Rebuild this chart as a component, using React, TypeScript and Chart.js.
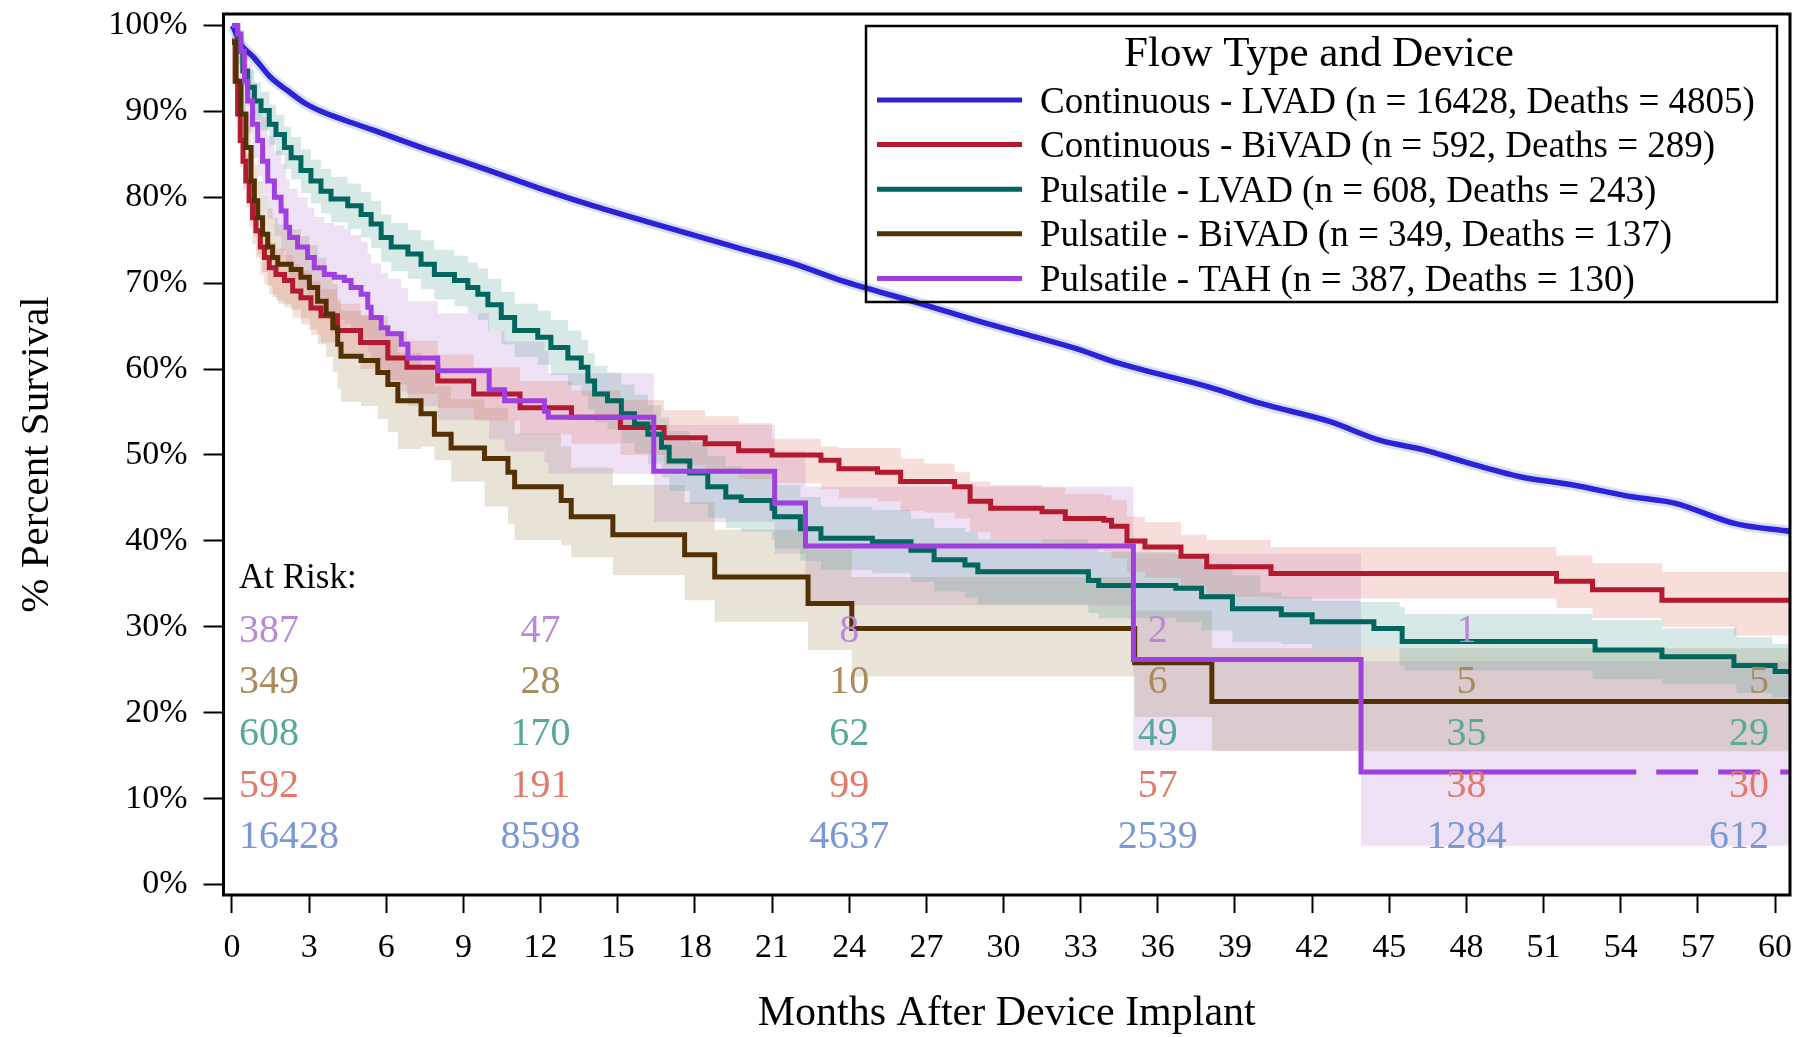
import React, { useEffect, useRef } from 'react';
import { Chart, registerables } from 'chart.js';

Chart.register(...registerables);

const SERIF = '"Liberation Serif", "Times New Roman", Times, serif';

// ---------- axis ticks ----------
const xTickValues = [0, 3, 6, 9, 12, 15, 18, 21, 24, 27, 30, 33, 36, 39, 42, 45, 48, 51, 54, 57, 60];
const xTickLabels = ['0', '3', '6', '9', '12', '15', '18', '21', '24', '27', '30', '33', '36', '39', '42', '45', '48', '51', '54', '57', '60'];
const yTickValues = [0, 10, 20, 30, 40, 50, 60, 70, 80, 90, 100];
const yTickLabels = ['0%', '10%', '20%', '30%', '40%', '50%', '60%', '70%', '80%', '90%', '100%'];

// ---------- legend ----------
const legendTitle = 'Flow Type and Device';
const legendLabels = [
  'Continuous - LVAD (n = 16428, Deaths = 4805)',
  'Continuous - BiVAD (n = 592, Deaths = 289)',
  'Pulsatile - LVAD (n = 608, Deaths = 243)',
  'Pulsatile - BiVAD (n = 349, Deaths = 137)',
  'Pulsatile - TAH (n = 387, Deaths = 130)',
];
const lineColors = ['#2b22da', '#b3192f', '#01665e', '#543005', '#a03fe0'];
const lightColors = ['#7b97d4', '#e27a6a', '#5aa89a', '#a98a5c', '#bb88d8'];

// ---------- survival curves: [month, % survival] ----------
const cLvad: number[][] = [
  [0, 100], [0.03, 99.9], [0.35, 97.8], [0.87, 96.2], [1.52, 93.9], [2.17, 92.4], [2.81, 91.0],
  [3.46, 90.0], [4.44, 88.9], [5.41, 87.9], [7.35, 85.8], [9.43, 83.7], [11.9, 81.1], [13.84, 79.2],
  [16.43, 76.9], [19.8, 74.0], [21.8, 72.3], [23.7, 70.3], [26.8, 67.6], [28.9, 65.7], [30.8, 64.1],
  [32.8, 62.4], [34.5, 60.65], [38.0, 57.9], [40.0, 56.0], [42.67, 53.9], [44.64, 51.7], [46.35, 50.6],
  [47.93, 49.2], [50.04, 47.5], [52.14, 46.5], [54.5, 45.1], [56.09, 44.4], [58.46, 42.0], [60.6, 41.1],
];

const cBivad: number[][] = [
  [0, 98.2], [0.12, 93.5], [0.22, 89.7], [0.32, 86.6], [0.43, 84.2], [0.54, 81.9], [0.67, 79.6],
  [0.8, 77.6], [0.93, 76.1], [1.1, 74.2], [1.26, 73.0], [1.45, 71.8], [1.71, 71.0], [2.04, 70.3],
  [2.36, 69.1], [2.68, 68.3], [3.07, 67.1], [3.46, 66.2], [4.1, 64.5], [5.0, 63.1], [6.06, 61.3],
  [6.8, 60.2], [8.0, 58.6], [9.4, 57.1], [11.2, 55.5], [13.2, 54.4], [15.1, 53.2], [16.8, 52.0],
  [18.4, 51.3], [19.7, 50.5], [21.0, 50.0], [22.9, 49.4], [23.6, 48.4], [25.1, 48.0], [26.0, 46.9],
  [28.1, 46.3], [28.7, 44.6], [29.5, 43.8], [31.5, 43.4], [32.4, 42.6], [33.9, 42.4], [34.2, 41.7],
  [34.8, 40.0], [35.5, 39.3], [36.9, 38.2], [37.9, 37.0], [40.4, 36.2], [51.5, 35.3], [52.9, 34.3],
  [55.6, 33.1], [60.6, 33.1],
];

const pLvad: number[][] = [
  [0, 100], [0.22, 97.0], [0.42, 94.7], [0.61, 92.8], [0.87, 91.2], [1.13, 90.1], [1.45, 88.5],
  [1.71, 87.3], [2.04, 85.8], [2.3, 84.6], [2.68, 83.1], [3.07, 81.9], [3.46, 80.7], [3.85, 79.8],
  [4.5, 79.0], [5.02, 78.0], [5.41, 76.9], [5.8, 75.3], [6.19, 74.2], [6.84, 73.4], [7.35, 72.2],
  [7.87, 71.0], [8.65, 70.3], [9.17, 69.5], [9.56, 68.7], [9.95, 67.5], [10.47, 66.0], [10.99, 64.5],
  [11.89, 63.7], [12.4, 62.5], [13.06, 61.3], [13.58, 60.2], [13.84, 58.6], [14.1, 57.1], [14.6, 56.3],
  [15.14, 54.8], [15.65, 53.6], [16.17, 52.4], [16.7, 50.9], [17.0, 49.3], [17.8, 47.9], [18.5, 46.3],
  [19.2, 45.1], [19.8, 44.7], [21.0, 43.8], [21.1, 42.8], [22.1, 41.4], [22.9, 40.3], [24.9, 39.9],
  [26.4, 38.9], [27.3, 37.8], [28.5, 37.2], [29.0, 36.4], [33.3, 35.4], [33.7, 34.8], [36.7, 34.5],
  [37.7, 33.5], [38.9, 32.1], [40.8, 31.4], [42.0, 30.6], [44.4, 29.8], [45.5, 28.3], [53.0, 27.3],
  [55.6, 26.5], [58.4, 25.5], [60.0, 24.8], [60.6, 24.8],
];

const pBivad: number[][] = [
  [0, 98.0], [0.16, 93.5], [0.35, 89.7], [0.54, 85.8], [0.74, 81.9], [0.87, 79.6], [1.0, 77.6],
  [1.19, 75.7], [1.39, 74.2], [1.58, 73.0], [1.78, 72.2], [2.3, 71.6], [2.68, 70.7], [3.01, 69.5],
  [3.33, 67.9], [3.66, 66.4], [3.92, 64.8], [4.11, 62.9], [4.24, 61.5], [5.02, 61.0], [5.67, 59.6],
  [6.06, 58.2], [6.45, 56.3], [7.35, 54.8], [7.87, 52.4], [8.52, 50.8], [9.82, 49.6], [10.73, 48.0],
  [10.99, 46.3], [12.8, 44.7], [13.19, 42.8], [14.81, 40.7], [17.6, 38.4], [18.77, 35.8], [22.4, 32.7],
  [24.1, 29.8], [35.1, 25.8], [38.1, 21.3], [60.6, 21.3],
];

const tah: number[][] = [
  [0, 100], [0.22, 99.0], [0.35, 97.0], [0.48, 93.5], [0.61, 91.2], [0.8, 88.5], [1.0, 86.6],
  [1.19, 84.2], [1.39, 81.9], [1.65, 80.0], [1.91, 78.4], [2.1, 76.5], [2.24, 75.3], [2.55, 74.2],
  [2.94, 73.0], [3.2, 71.8], [3.59, 71.0], [3.98, 70.7], [4.37, 70.3], [4.63, 69.5], [5.02, 68.7],
  [5.28, 67.2], [5.41, 66.0], [5.8, 64.8], [6.06, 64.1], [6.58, 62.9], [6.84, 61.3], [8.0, 59.8],
  [10.0, 57.6], [10.6, 56.3], [12.15, 55.1], [12.3, 54.4], [16.4, 48.1], [21.1, 44.4], [22.3, 39.4],
  [35.05, 26.2], [43.9, 13.1], [54.6, 13.1],
];
const tahTail: number[][] = [[54.6, 13.1], [60.6, 13.1]];

// ---------- confidence bands: [month, upper %, lower %] ----------
const cBivadBand: number[][] = [
  [0, 100, 100], [0.03, 99.5, 96.5], [0.12, 96, 91], [0.22, 92.5, 87], [0.32, 89.5, 83.5], [0.43, 87, 81],
  [0.54, 85, 78.8], [0.67, 82.7, 76.5], [0.8, 80.7, 74.5], [0.93, 79.2, 73], [1.1, 77.3, 71], [1.26, 76, 69.8],
  [1.45, 74.8, 68.7], [1.71, 74, 68], [2.04, 73.3, 67.2], [2.36, 72.2, 66], [2.68, 71.4, 65.2], [3.07, 70.2, 64],
  [3.46, 69.3, 63.1], [4.1, 67.6, 61.4], [5.0, 66.2, 60], [6.06, 64.4, 58.2], [6.8, 63.3, 57.1], [8.0, 61.7, 55.5],
  [9.4, 60.2, 54], [11.2, 58.6, 52.4], [13.2, 57.5, 51.3], [15.1, 56.4, 50], [16.8, 55.2, 48.8], [18.4, 54.5, 48],
  [19.7, 53.7, 47.2], [21.0, 51.9, 46.7], [22.9, 51.0, 46], [23.6, 50.8, 45], [25.1, 50.8, 44.6], [26.0, 49.6, 43.5],
  [26.9, 49.0, 43.3], [28.1, 48.0, 42.6], [28.7, 46.9, 41], [29.5, 46.5, 40.2], [31.5, 46.2, 39.8], [32.4, 45.5, 39],
  [33.9, 45.3, 38.8], [34.2, 44.8, 38], [34.8, 42.8, 36.4], [35.5, 42.2, 35.7], [36.9, 40.7, 34.7], [37.9, 40.1, 33.5],
  [40.4, 39.3, 33.3], [51.5, 38.3, 32.2], [52.9, 37.4, 31.0], [55.6, 36.4, 30.0], [58.4, 36.4, 29.0], [60.6, 36.4, 29.0],
];

const pLvadBand: number[][] = [
  [0, 100, 100], [0.22, 98.5, 95.5], [0.42, 96.5, 92.8], [0.61, 94.8, 90.8], [0.87, 93.4, 89], [1.13, 92.3, 87.8],
  [1.45, 90.8, 86.1], [1.71, 89.6, 84.9], [2.04, 88.2, 83.3], [2.3, 87, 82.1], [2.68, 85.6, 80.5], [3.07, 84.4, 79.3],
  [3.46, 83.3, 78.1], [3.85, 82.4, 77.1], [4.5, 81.6, 76.3], [5.02, 80.6, 75.3], [5.41, 79.6, 74.1], [5.8, 78, 72.5],
  [6.19, 77, 71.4], [6.84, 76.2, 70.5], [7.35, 75, 69.3], [7.87, 73.9, 68.1], [8.65, 73.2, 67.3], [9.17, 72.4, 66.5],
  [9.56, 71.7, 65.7], [9.95, 70.5, 64.4], [10.47, 69, 62.9], [10.99, 67.6, 61.4], [11.89, 66.8, 60.5], [12.4, 65.7, 59.3],
  [13.06, 64.5, 58.1], [13.58, 63.4, 56.9], [13.84, 61.9, 55.3], [14.1, 60.4, 53.8], [14.6, 59.6, 53], [15.14, 58.2, 51.4],
  [15.65, 57, 50.2], [16.17, 55.8, 49], [16.7, 54.4, 47.4], [17.0, 52.8, 45.8], [17.8, 51.5, 44.3], [18.5, 49.9, 42.7],
  [19.2, 48.7, 41.5], [19.8, 48.3, 41.1], [21.0, 47.5, 40.1], [21.1, 46.5, 39.1], [22.1, 45.1, 37.7], [22.9, 44, 36.6],
  [24.9, 43.6, 36.2], [26.4, 42.6, 35.2], [27.3, 41.5, 34.1], [28.5, 41, 33.4], [29.0, 40.2, 32.6], [33.3, 39.2, 31.6],
  [33.7, 38.7, 31], [36.7, 38.4, 30.6], [37.7, 37.4, 29.6], [38.9, 36, 28.2], [40.0, 34, 28.2], [40.8, 33.5, 28],
  [42.0, 33, 27.5], [43.85, 32.9, 27.5], [45.4, 32.3, 25.5], [45.6, 31.5, 24.9], [52.9, 30.8, 23.9], [55.6, 29.8, 23.3],
  [58.5, 28.8, 22.3], [59.9, 28, 21.8], [60.6, 28, 21.8],
];

const pBivadBand: number[][] = [
  [0, 100, 100], [0.03, 99.5, 94], [0.16, 97, 90], [0.35, 93.5, 86], [0.54, 89.8, 81.8], [0.74, 86, 77.8],
  [0.87, 83.8, 75.4], [1.0, 81.9, 73.3], [1.19, 80.1, 71.3], [1.39, 78.7, 69.7], [1.58, 77.6, 68.4], [1.78, 76.8, 67.6],
  [2.3, 76.3, 66.9], [2.68, 75.5, 65.9], [3.01, 74.4, 64.6], [3.33, 72.9, 62.9], [3.66, 71.4, 61.4], [3.92, 69.9, 59.7],
  [4.11, 68.1, 57.7], [4.24, 66.8, 56.2], [5.02, 66.3, 55.7], [5.67, 65, 54.2], [6.06, 63.7, 52.7], [6.45, 61.9, 50.7],
  [7.35, 60, 51], [7.87, 58, 49.4], [8.52, 56.5, 46.9], [9.82, 55.5, 44], [10.73, 54, 42], [10.99, 52.5, 40.1],
  [12.8, 51, 39.5], [13.19, 48.5, 38.1], [14.81, 46.5, 36], [17.6, 44.5, 33.1], [18.77, 41.3, 30.6], [22.4, 39, 27.3],
  [24.1, 35.8, 24.2], [35.1, 31.9, 19.5], [38.1, 27.5, 15.5], [60.6, 27.5, 15.5],
];

const tahBand: number[][] = [
  [0, 100, 100], [0.22, 100, 97], [0.35, 99.5, 94.5], [0.48, 97.5, 90], [0.61, 95.5, 87.5], [0.8, 93.3, 84.5],
  [1.0, 91.5, 82.5], [1.19, 89.3, 80], [1.39, 87.2, 77.5], [1.65, 85.4, 75.5], [1.91, 83.9, 73.8], [2.1, 82.1, 71.8],
  [2.24, 81, 70.6], [2.55, 80, 69.4], [2.94, 78.8, 68.1], [3.2, 77.7, 66.9], [3.59, 77, 66], [3.98, 76.7, 65.7],
  [4.37, 76.3, 65.3], [4.63, 75.6, 64.4], [5.02, 74.8, 63.6], [5.28, 73.4, 62], [5.41, 72.3, 60.7], [5.8, 71.2, 59.4],
  [6.06, 70.5, 58.7], [6.58, 69.4, 57.4], [6.84, 67.9, 55.7], [8.0, 66.5, 54.1], [10.0, 64.4, 51.8], [10.6, 63.2, 50.4],
  [12.15, 62.1, 49.1], [12.3, 59.5, 47.8], [16.4, 53.5, 42.2], [21.1, 50.5, 38.5], [22.3, 46.3, 32.5],
  [35.05, 38.5, 15.6], [43.9, 26, 4.5], [60.6, 26, 4.5],
];

// ---------- number at risk ----------
const atRiskTimes = [0, 12, 24, 36, 48, 60];
const atRiskTAH = [387, 47, 8, 2, 1, null];
const atRiskPBivad = [349, 28, 10, 6, 5, 5];
const atRiskPLvad = [608, 170, 62, 49, 35, 29];
const atRiskCBivad = [592, 191, 99, 57, 38, 30];
const atRiskCLvad = [16428, 8598, 4637, 2539, 1284, 612];

const atRiskRows = [
  { values: atRiskTAH, color: lightColors[4] },
  { values: atRiskPBivad, color: lightColors[3] },
  { values: atRiskPLvad, color: lightColors[2] },
  { values: atRiskCBivad, color: lightColors[1] },
  { values: atRiskCLvad, color: lightColors[0] },
];

function hexA(hex: string, a: number) {
  const n = parseInt(hex.slice(1), 16);
  return `rgba(${(n >> 16) & 255},${(n >> 8) & 255},${n & 255},${a})`;
}

const toPts = (arr: number[][], k = 1) => arr.map((r) => ({ x: r[0], y: r[k] }));

function buildDatasets() {
  const ds: any[] = [];
  const bands = [
    { band: cBivadBand, color: lightColors[1] },
    { band: pLvadBand, color: lightColors[2] },
    { band: pBivadBand, color: lightColors[3] },
    { band: tahBand, color: lightColors[4] },
  ];
  const W = 5;
  ds.push({ data: toPts(tah), borderColor: lineColors[4], borderWidth: W, stepped: true, pointRadius: 0, fill: false, order: 1 });
  ds.push({ data: toPts(tahTail), borderColor: lineColors[4], borderWidth: W, borderDash: [42, 20], borderDashOffset: 42, pointRadius: 0, fill: false, order: 1 });
  ds.push({ data: toPts(pBivad), borderColor: lineColors[3], borderWidth: W, stepped: true, pointRadius: 0, fill: false, order: 2 });
  ds.push({ data: toPts(pLvad), borderColor: lineColors[2], borderWidth: W, stepped: true, pointRadius: 0, fill: false, order: 3 });
  ds.push({ data: toPts(cBivad), borderColor: lineColors[1], borderWidth: W, stepped: true, pointRadius: 0, fill: false, order: 4 });
  ds.push({ data: toPts(cLvad), borderColor: lineColors[0], borderWidth: 5.5, cubicInterpolationMode: 'monotone', pointRadius: 0, fill: false, order: 5 });
  ds.push({ data: toPts(cLvad), borderColor: hexA(lightColors[0], 0.3), borderWidth: 11, cubicInterpolationMode: 'monotone', pointRadius: 0, fill: false, order: 6 });
  bands.forEach((b) => {
    const upperIdx = ds.length;
    ds.push({
      data: toPts(b.band, 1), borderWidth: 0, borderColor: 'rgba(0,0,0,0)', stepped: true, pointRadius: 0,
      fill: upperIdx + 1, backgroundColor: hexA(b.color, 0.25), order: 10,
    });
    ds.push({
      data: toPts(b.band, 2), borderWidth: 0, borderColor: 'rgba(0,0,0,0)', stepped: true, pointRadius: 0,
      fill: false, order: 10,
    });
  });
  return ds;
}

const overlayPlugin = {
  id: 'overlay',
  afterDatasetsDraw(chart: any) {
    const { ctx, chartArea: a } = chart;
    ctx.save();
    ctx.strokeStyle = '#000';
    ctx.lineWidth = 3;
    ctx.strokeRect(a.left, a.top, a.right - a.left, a.bottom - a.top);
    ctx.restore();
  },
  afterDraw(chart: any) {
    const { ctx, scales } = chart;
    const xs = scales.x;
    const ys = scales.y;
    ctx.save();
    // legend box
    ctx.strokeStyle = '#000';
    ctx.lineWidth = 2.5;
    ctx.strokeRect(866, 26, 911, 276);
    ctx.fillStyle = '#000';
    ctx.textBaseline = 'alphabetic';
    ctx.textAlign = 'center';
    ctx.font = `43px ${SERIF}`;
    ctx.fillText(legendTitle, 1319, 66);
    legendLabels.forEach((lab, i) => {
      const yy = 100 + i * 44.6;
      ctx.strokeStyle = lineColors[i];
      ctx.lineWidth = 5;
      ctx.beginPath();
      ctx.moveTo(877, yy);
      ctx.lineTo(1022, yy);
      ctx.stroke();
      ctx.fillStyle = '#000';
      ctx.font = `37px ${SERIF}`;
      ctx.textAlign = 'left';
      ctx.fillText(lab, 1040, yy + 12.5);
    });
    // at risk table
    const x0 = xs.getPixelForValue(0);
    ctx.fillStyle = '#000';
    ctx.font = `35px ${SERIF}`;
    ctx.textAlign = 'left';
    ctx.fillText('At Risk:', x0 + 7, ys.getPixelForValue(34.5));
    const baselines = [28.2, 22.25, 16.2, 10.15, 4.2];
    ctx.font = `40px ${SERIF}`;
    atRiskRows.forEach((row, r) => {
      const by = ys.getPixelForValue(baselines[r]);
      ctx.fillStyle = row.color;
      row.values.forEach((v: any, c: number) => {
        if (v === null || v === undefined) return;
        const px = xs.getPixelForValue(atRiskTimes[c]);
        if (c === 0) { ctx.textAlign = 'left'; ctx.fillText(String(v), px + 7, by); }
        else if (c === atRiskTimes.length - 1) { ctx.textAlign = 'right'; ctx.fillText(String(v), px - 6, by); }
        else { ctx.textAlign = 'center'; ctx.fillText(String(v), px, by); }
      });
    });
    ctx.restore();
  },
};

export default function App() {
  const ref = useRef<HTMLCanvasElement | null>(null);
  useEffect(() => {
    document.body.style.margin = '0';
    document.body.style.background = '#fff';
    const canvas = ref.current as HTMLCanvasElement;
    const chart = new Chart(canvas, {
      type: 'line',
      data: { datasets: buildDatasets() },
      options: {
        animation: false,
        responsive: false,
        devicePixelRatio: 1,
        layout: { padding: { left: 0, top: 14, right: 9, bottom: 0 } },
        plugins: { legend: { display: false }, tooltip: { enabled: false } },
        elements: { point: { radius: 0 }, line: { tension: 0 } },
        scales: {
          x: {
            type: 'linear',
            min: -0.33,
            max: 60.58,
            afterBuildTicks: (s: any) => { s.ticks = xTickValues.map((v) => ({ value: v })); },
            afterFit: (s: any) => { s.height = 142; s.paddingLeft = 0; s.paddingRight = 0; },
            ticks: {
              autoSkip: false, maxRotation: 0, minRotation: 0, padding: 15, color: '#000',
              font: { family: SERIF, size: 34 },
              callback: (v: any) => xTickLabels[xTickValues.indexOf(Number(v))],
            },
            grid: { display: true, drawOnChartArea: false, drawTicks: true, tickLength: 18, tickWidth: 2, tickColor: '#000' },
            border: { display: false },
            title: {
              display: true, text: 'Months After Device Implant', color: '#000',
              font: { family: SERIF, size: 42, lineHeight: 1.12 }, padding: { top: 0, bottom: 0 },
            },
          },
          y: {
            type: 'linear',
            min: -1.22,
            max: 101.33,
            afterBuildTicks: (s: any) => { s.ticks = yTickValues.map((v) => ({ value: v })); },
            afterFit: (s: any) => { s.width = 223.5; s.paddingTop = 0; s.paddingBottom = 0; },
            ticks: {
              autoSkip: false, padding: 16, color: '#000',
              font: { family: SERIF, size: 34 },
              callback: (v: any) => yTickLabels[yTickValues.indexOf(Number(v))],
            },
            grid: { display: true, drawOnChartArea: false, drawTicks: true, tickLength: 20, tickWidth: 2, tickColor: '#000' },
            border: { display: false },
            title: {
              display: true, text: '% Percent Survival', color: '#000',
              font: { family: SERIF, size: 41, lineHeight: 1.2 }, padding: { top: 13, bottom: 0 },
            },
          },
        },
      },
      plugins: [overlayPlugin],
    } as any);
    return () => chart.destroy();
  }, []);
  return (
    <div style={{ width: 1799, height: 1037, position: 'relative', background: '#fff' }}>
      <canvas ref={ref} width={1799} height={1037} style={{ display: 'block', width: 1799, height: 1037 }} />
    </div>
  );
}
